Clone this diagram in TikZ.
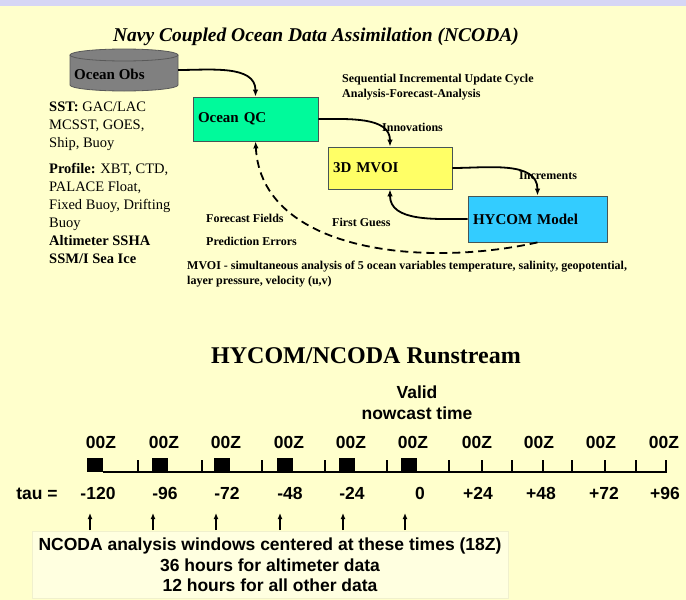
\documentclass[tikz,border=0pt]{standalone}
\usepackage{fontspec}
\setmainfont{Liberation Serif}
\newfontfamily\arialfont{Liberation Sans}
\usetikzlibrary{positioning, shapes.geometric, arrows.meta}
\definecolor{paleyellow}{RGB}{255,255,204}
\definecolor{bandlilac}{RGB}{214,214,245}
\definecolor{qcgreen}{RGB}{0,250,155}
\definecolor{mvoiyellow}{RGB}{255,255,102}
\definecolor{hycomblue}{RGB}{51,204,255}
\definecolor{edgegray}{RGB}{70,85,85}
\definecolor{notefill}{RGB}{255,255,224}
\definecolor{noteedge}{RGB}{240,240,205}

\begin{document}
\begin{tikzpicture}[x=1pt, y=1pt, >={Latex[length=7pt,width=5.5pt]},
    box/.style={draw=edgegray, line width=0.8pt, rectangle, inner xsep=5pt, inner ysep=0pt, align=left, font=\fontsize{15}{18}\selectfont\bfseries},
    lbl/.style={anchor=base west, inner sep=0pt, font=\fontsize{12}{15}\selectfont\bfseries},
    tline/.style={anchor=base, inner sep=0pt, font=\arialfont\fontsize{17.5}{21}\selectfont\bfseries},
    flow/.style={->, line width=1.8pt}]

    % background and top band
    \fill[paleyellow] (0,0) rectangle (686,-600);
    \fill[bandlilac] (0,0) rectangle (686,-6);
    \useasboundingbox (0,0) rectangle (686,-600);

    \node (title) at (316,-37) {\fontsize{19.5}{22}\selectfont\bfseries\itshape Navy Coupled Ocean Data Assimilation (NCODA)};

    % data source drum
    \filldraw[fill=gray, draw=black!65, line width=0.8pt] (70,-55) -- (70,-85) arc[start angle=180, end angle=360, x radius=54, y radius=6] -- (178,-55);
    \filldraw[fill=gray, draw=black!65, line width=0.8pt] (124,-55) ellipse[x radius=54, y radius=6];
    \node (obs) [minimum width=108, minimum height=42, inner sep=0pt] at (124,-70) {};
    \node (obstext) [anchor=base west, inner sep=0pt, font=\fontsize{15}{18}\selectfont\bfseries] at (74,-79) {Ocean Obs};

    % cycle boxes
    \node (qc) [box, fill=qcgreen, minimum width=125, minimum height=44, text width=115] at (255.5,-119) {Ocean QC};
    \node (mvoi) [box, fill=mvoiyellow, minimum width=124, minimum height=42, text width=114] at (390,-168) {3D MVOI};
    \node (hycom) [box, fill=hycomblue, minimum width=139, minimum height=46, text width=129] at (537.5,-219) {HYCOM Model};

    \node (obslist) [anchor=north west, inner sep=0pt, align=left, font=\fontsize{14.5}{18}\selectfont] at (49,-102)
        {\textbf{SST:} GAC/LAC\\ MCSST, GOES,\\ Ship, Buoy\\[8pt] \textbf{Profile:} XBT, CTD,\\ PALACE Float,\\ Fixed Buoy, Drifting\\ Buoy\\ \textbf{Altimeter SSHA}\\ \textbf{SSM/I Sea Ice}};

    \node (cycle1) [lbl] at (342,-82) {Sequential Incremental Update Cycle};
    \node (cycle2) [lbl] at (342,-97) {Analysis-Forecast-Analysis};
    \node (innov) [lbl] at (382,-131) {Innovations};
    \node (incr) [lbl] at (519,-179) {Increments};
    \node (guess) [lbl] at (332,-226) {First Guess};
    \node (fcst) [lbl] at (206,-222) {Forecast Fields};
    \node (perr) [lbl] at (206,-245) {Prediction Errors};
    \node (mvoinote) [lbl, anchor=north west, align=left] at (187,-261) {MVOI - simultaneous analysis of 5 ocean variables temperature, salinity, geopotential,\\ layer pressure, velocity (u,v)};

    \draw[flow] (obs.east) to[out=0, in=90] (qc.north);
    \draw[flow] (qc.east) to[out=0, in=90] (mvoi.north);
    \draw[flow] (mvoi.east) to[out=0, in=90] (hycom.north);
    \draw[flow] (hycom.west) to[out=180, in=-90] (mvoi.south);
    \draw[flow, dash pattern=on 8pt off 5pt] (hycom.south) .. controls +(-117,-26) and +(6,-109) .. (qc.south);

    % runstream timeline
    \node (runtitle) [anchor=base, inner sep=0pt, font=\fontsize{24}{28}\selectfont\bfseries] at (366,-363) {HYCOM/NCODA Runstream};
    \node (valid) [tline] at (417,-398) {Valid};
    \node (nowcast) [tline] at (417,-419) {nowcast time};

    \node (z1) [tline] at (101,-448) {00Z};
    \node (z2) [tline] at (164,-448) {00Z};
    \node (z3) [tline] at (226,-448) {00Z};
    \node (z4) [tline] at (289,-448) {00Z};
    \node (z5) [tline] at (351,-448) {00Z};
    \node (z6) [tline] at (413,-448) {00Z};
    \node (z7) [tline] at (477,-448) {00Z};
    \node (z8) [tline] at (539,-448) {00Z};
    \node (z9) [tline] at (601,-448) {00Z};
    \node (z10) [tline] at (664,-448) {00Z};

    \draw[line width=1.6pt] (103,-472) -- (667,-472);
    \foreach \x in {95,160,222,285,347,409}
        \fill (\x-8,-458) rectangle (\x+8,-472);
    \foreach \x in {138,202,262,325,387,449,482,512,543,572,605,636,666}
        \draw[line width=1.4pt] (\x,-460) -- (\x,-473);

    \node (tau) [tline] at (37,-499) {tau =};
    \node (t1) [tline] at (98,-499) {-120};
    \node (t2) [tline] at (165,-499) {-96};
    \node (t3) [tline] at (227,-499) {-72};
    \node (t4) [tline] at (290,-499) {-48};
    \node (t5) [tline] at (352,-499) {-24};
    \node (t6) [tline] at (420,-499) {0};
    \node (t7) [tline] at (478,-499) {+24};
    \node (t8) [tline] at (541,-499) {+48};
    \node (t9) [tline] at (604,-499) {+72};
    \node (t10) [tline] at (665,-499) {+96};

    \foreach \x in {90,153,216,280,343,405}
        \draw[-{Latex[length=6pt,width=5pt]}, line width=1.7pt] (\x,-530) -- (\x,-513);

    \node (note) [draw=noteedge, fill=notefill, minimum width=476, minimum height=67, align=center, font=\arialfont\fontsize{17.5}{20.5}\selectfont\bfseries] at (270,-565)
        {NCODA analysis windows centered at these times (18Z)\\ 36 hours for altimeter data\\ 12 hours for all other data};
\end{tikzpicture}
\end{document}
